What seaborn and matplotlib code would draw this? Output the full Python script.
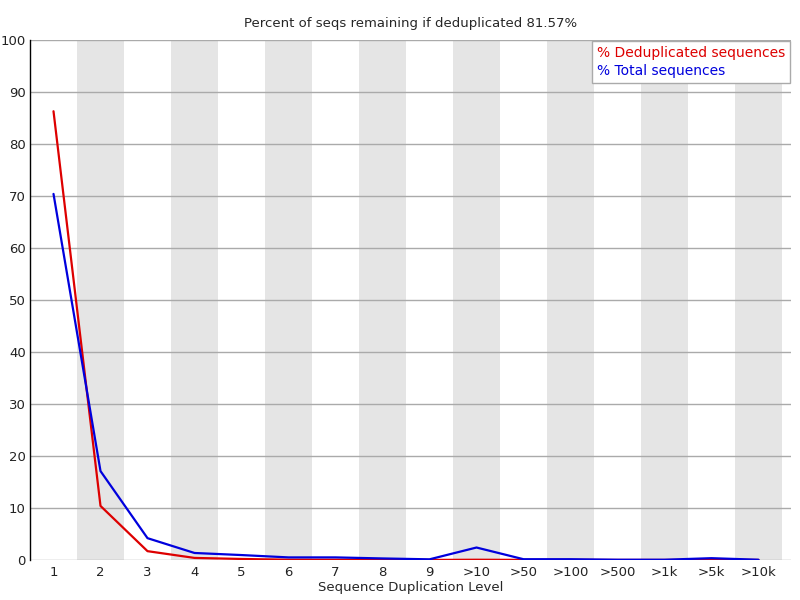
import matplotlib
matplotlib.use('Agg')
import matplotlib.pyplot as plt
import seaborn as sns
import pandas as pd

# niveis de duplicacao e percentuais
levels = ['1', '2', '3', '4', '5', '6', '7', '8', '9', '>10', '>50', '>100', '>500', '>1k', '>5k', '>10k']
dedup_pct = [86.3, 10.4, 1.7, 0.4, 0.2, 0.05, 0.05, 0.03, 0.01, 0.05, 0.02, 0.02, 0.01, 0.01, 0.05, 0.01]
total_pct = [70.4, 17.1, 4.2, 1.35, 0.95, 0.5, 0.5, 0.3, 0.13, 2.4, 0.15, 0.15, 0.05, 0.05, 0.35, 0.05]

df = pd.DataFrame({'x': range(len(levels)), 'dedup': dedup_pct, 'total': total_pct})

sns.set_style('white')
plt.rcParams['font.family'] = ['DejaVu Sans']

fig = plt.figure(figsize=(8, 6), dpi=100)
ax = fig.add_axes([30 / 800, 40 / 600, 761 / 800, 520 / 600])

# faixas cinzas alternadas
for i in range(len(levels)):
    if i % 2 == 1:
        ax.axvspan(i - 0.5, i + 0.5, color='#e5e5e5', lw=0, zorder=0)

for v in range(10, 101, 10):
    ax.axhline(v, color='#aaaaaa', lw=1, zorder=1)
ax.axhline(0, color='#aaaaaa', lw=1, zorder=1)

sns.lineplot(data=df, x='x', y='dedup', color='#dd0000', lw=1.6, ax=ax, zorder=3)
sns.lineplot(data=df, x='x', y='total', color='#0000dd', lw=1.6, ax=ax, zorder=3)

ax.set_xlim(-0.5, 761 / 47 - 0.5)
ax.set_ylim(0, 100)
ax.set_xticks(range(len(levels)))
ax.set_xticklabels(levels)
ax.set_yticks(range(0, 101, 10))
ax.tick_params(axis='both', length=0, labelsize=9.5, colors='#222222')
ax.tick_params(axis='y', pad=3)
ax.tick_params(axis='x', pad=4)

for s in ['top', 'right', 'bottom']:
    ax.spines[s].set_visible(False)
ax.spines['left'].set_color('black')
ax.spines['left'].set_linewidth(1)

ax.set_xlabel('Sequence Duplication Level', fontsize=9.5, labelpad=2)
ax.set_ylabel('')
ax.set_title('Percent of seqs remaining if deduplicated 81.57%', fontsize=9.5, pad=9)

leg = ax.legend(handles=[plt.Line2D([], [], color='none'), plt.Line2D([], [], color='none')],
                labels=['% Deduplicated sequences', '% Total sequences'],
                loc='upper right', bbox_to_anchor=(790 / 800, 1 - 41 / 600),
                bbox_transform=fig.transFigure,
                handlelength=0, handletextpad=0, fontsize=10, frameon=True,
                fancybox=False, borderpad=0.35, labelspacing=0.3, borderaxespad=0)
leg.get_frame().set_edgecolor('#aaaaaa')
leg.get_frame().set_facecolor('white')
leg.get_frame().set_alpha(1)
leg.get_frame().set_linewidth(1)
for t, c in zip(leg.get_texts(), ['#dd0000', '#0000dd']):
    t.set_color(c)

plt.savefig('out.png', dpi=100)
